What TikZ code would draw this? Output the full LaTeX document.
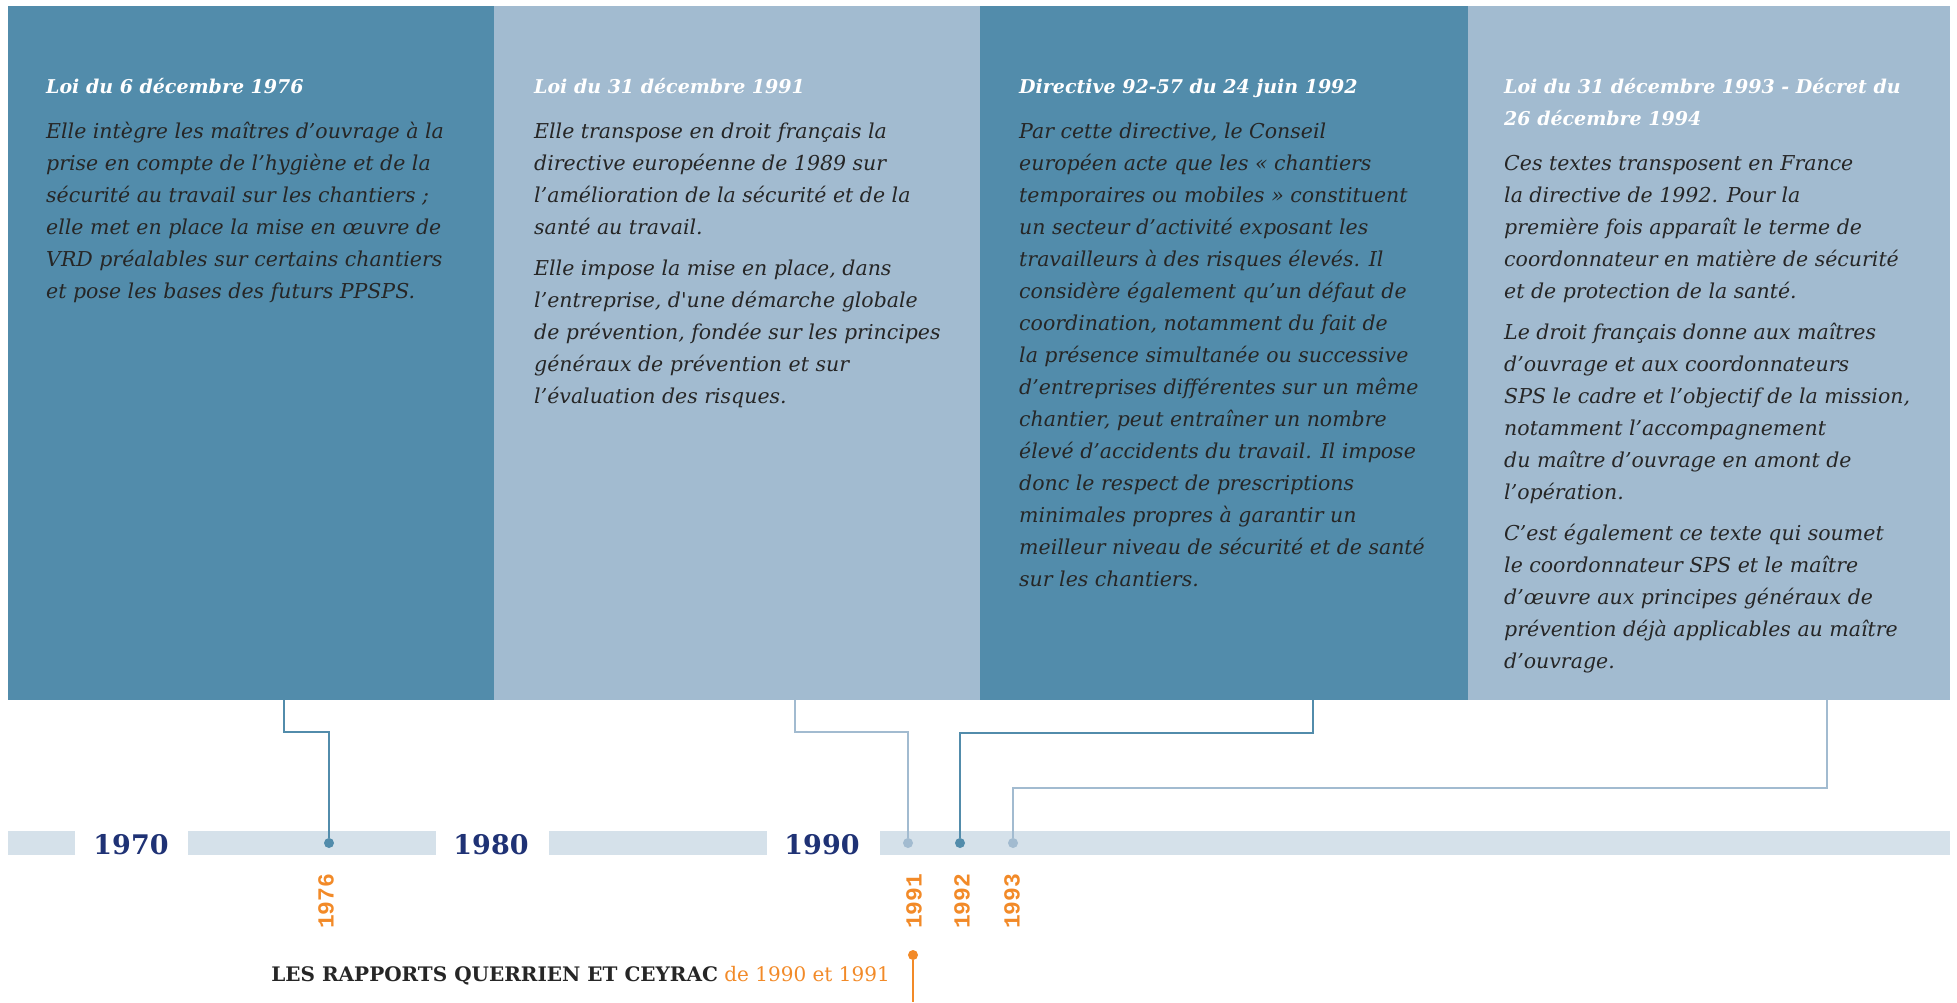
\documentclass[tikz,border=0pt]{standalone}
\usepackage{fontspec}
\setmainfont{DejaVu Serif}
\newfontfamily\yearfont{Liberation Mono}
\definecolor{darkpan}{HTML}{528CAB}
\definecolor{lightpan}{HTML}{A2BBD0}
\definecolor{barcol}{HTML}{D5E1EA}
\definecolor{navy}{HTML}{1F3275}
\definecolor{accent}{HTML}{F28A28}
\definecolor{txt}{HTML}{262626}
\tikzset{
  panel/.style={anchor=north west, inner sep=0, minimum width=486pt, minimum height=694pt},
  title/.style={anchor=base west, inner sep=0, text=white, font=\fontsize{19}{32}\selectfont\bfseries\itshape},
  body/.style={anchor=base west, inner sep=0, text=txt, font=\fontsize{20.5}{32}\selectfont\itshape},
  decade/.style={anchor=base, inner sep=0, text=navy, font=\fontsize{27}{27}\selectfont\bfseries},
  yr/.style={rotate=90, anchor=west, inner sep=0, text=accent, font=\fontsize{23}{23}\selectfont\yearfont\bfseries},
  dot/.style={circle, inner sep=0, minimum size=10pt},
  lk/.style={line width=2pt}
}
\begin{document}
\begin{tikzpicture}[x=1pt, y=-1pt]
\useasboundingbox (0,0) rectangle (1957,1002);
\node[panel, fill=darkpan] (p1) at (8,6) {};
\node[panel, fill=lightpan] (p2) at (494,6) {};
\node[panel, fill=darkpan, minimum width=488pt] (p3) at (980,6) {};
\node[panel, fill=lightpan, minimum width=482pt] (p4) at (1468,6) {};

\node[title] (t1) at (46,93) {Loi du 6 décembre 1976};
\node[body] (b1) at (46,138) {\parbox[t]{440pt}{\raggedright
  Elle intègre les maîtres d’ouvrage à la\\
  prise en compte de l’hygiène et de la\\
  sécurité au travail sur les chantiers~;\\
  elle met en place la mise en œuvre de\\
  VRD préalables sur certains chantiers\\
  et pose les bases des futurs PPSPS.}};
\node[title] (t2) at (534,93) {Loi du 31 décembre 1991};
\node[body] (b2) at (534,138) {\parbox[t]{440pt}{\raggedright
  Elle transpose en droit français la\\
  directive européenne de 1989 sur\\
  l’amélioration de la sécurité et de la\\
  santé au travail.\\[9pt]
  Elle impose la mise en place, dans\\
  l’entreprise, d\textquotesingle une démarche globale\\
  de prévention, fondée sur les principes\\
  généraux de prévention et sur\\
  l’évaluation des risques.}};
\node[title] (t3) at (1019,93) {Directive 92-57 du 24 juin 1992};
\node[body] (b3) at (1019,138) {\parbox[t]{440pt}{\raggedright
  Par cette directive, le Conseil\\
  européen acte que les «~chantiers\\
  temporaires ou mobiles~» constituent\\
  un secteur d’activité exposant les\\
  travailleurs à des risques élevés. Il\\
  considère également qu’un défaut de\\
  coordination, notamment du fait de\\
  la présence simultanée ou successive\\
  d’entreprises différentes sur un même\\
  chantier, peut entraîner un nombre\\
  élevé d’accidents du travail. Il impose\\
  donc le respect de prescriptions\\
  minimales propres à garantir un\\
  meilleur niveau de sécurité et de santé\\
  sur les chantiers.}};
\node[title] (t4) at (1504,93) {\parbox[t]{440pt}{\raggedright
  Loi du 31 décembre 1993 - Décret du\\
  26 décembre 1994}};
\node[body] (b4) at (1504,170) {\parbox[t]{440pt}{\raggedright
  Ces textes transposent en France\\
  la directive de 1992. Pour la\\
  première fois apparaît le terme de\\
  coordonnateur en matière de sécurité\\
  et de protection de la santé.\\[9pt]
  Le droit français donne aux maîtres\\
  d’ouvrage et aux coordonnateurs\\
  SPS le cadre et l’objectif de la mission,\\
  notamment l’accompagnement\\
  du maître d’ouvrage en amont de\\
  l’opération.\\[9pt]
  C’est également ce texte qui soumet\\
  le coordonnateur SPS et le maître\\
  d’œuvre aux principes généraux de\\
  prévention déjà applicables au maître\\
  d’ouvrage.}};

\foreach \a/\b in {8/75,188/436,549/767,880/1950}
  \fill[barcol] (\a,831) rectangle (\b,855);
\foreach \x/\y in {131/1970,491/1980,822/1990}
  \node[decade] (y\y) at (\x,854) {\y};

\node[dot, fill=darkpan] (d1976) at (329,843) {};
\node[dot, fill=lightpan] (d1991) at (908,843) {};
\node[dot, fill=darkpan] (d1992) at (960,843) {};
\node[dot, fill=lightpan] (d1993) at (1013,843) {};
\coordinate (s1) at (284,700);
\coordinate (s2) at (795,700);
\coordinate (s3) at (1313,700);
\coordinate (s4) at (1827,700);
\draw[lk, darkpan] (s1) -- ++(0,32) -| (d1976);
\draw[lk, lightpan] (s2) -- ++(0,32) -| (d1991);
\draw[lk, darkpan] (s3) -- ++(0,33) -| (d1992);
\draw[lk, lightpan] (s4) -- ++(0,88) -| (d1993);

\foreach \x/\y in {326/1976,914/1991,962/1992,1012/1993}
  \node[yr] (l\y) at (\x,929) {\y};

\node[dot, fill=accent] (q) at (913,955) {};
\coordinate (qe) at (913,1002);
\draw[lk, accent] (q) -- (qe);
\node[anchor=base east, inner sep=0, font=\fontsize{20}{20}\selectfont] (rap) at (890,981)
  {\textcolor{txt}{\bfseries LES RAPPORTS QUERRIEN ET CEYRAC} \textcolor{accent}{de 1990 et 1991}};
\end{tikzpicture}
\end{document}
